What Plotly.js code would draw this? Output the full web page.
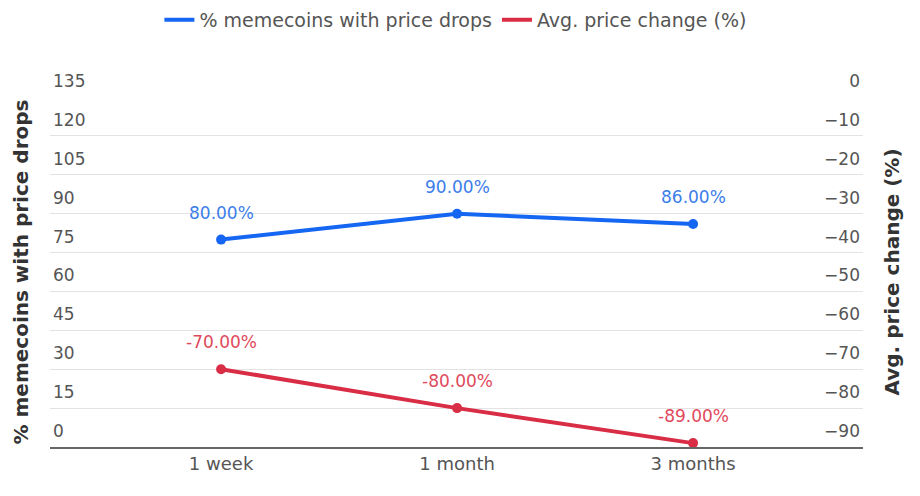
<!DOCTYPE html>
<html>
<head>
<meta charset="utf-8">
<script src="https://cdn.plot.ly/plotly-3.0.1.min.js"></script>
<style>html,body{margin:0;padding:0;background:#fff;}#chart{width:920px;height:496px;}</style>
</head>
<body>
<div id="chart"></div>
<script>
const categories = ["1 week", "1 month", "3 months"];
const pctDrops = [80, 90, 86];
const avgChange = [-70, -80, -89];
const leftTicks = [0, 15, 30, 45, 60, 75, 90, 105, 120, 135];
const rightTicks = [-90, -80, -70, -60, -50, -40, -30, -20, -10, 0];
const seriesNames = ["% memecoins with price drops", "Avg. price change (%)"];

const BLUE = "#1566f2";
const RED = "#d92d46";
const FONT = "DejaVu Sans, sans-serif";

const traces = [
  {
    x: categories, y: pctDrops, type: "scatter", mode: "lines+markers",
    name: seriesNames[0], yaxis: "y", showlegend: false,
    line: {color: BLUE, width: 4}, marker: {color: BLUE, size: 10},
    hoverinfo: "skip"
  },
  {
    x: categories, y: avgChange, type: "scatter", mode: "lines+markers",
    name: seriesNames[1], yaxis: "y2", showlegend: false,
    line: {color: RED, width: 4}, marker: {color: RED, size: 10},
    hoverinfo: "skip"
  },
  {x: [null], y: [null], type: "scatter", mode: "lines", name: seriesNames[0],
    line: {color: BLUE, width: 4}, hoverinfo: "skip"},
  {x: [null], y: [null], type: "scatter", mode: "lines", name: seriesNames[1], yaxis: "y2",
    line: {color: RED, width: 4}, hoverinfo: "skip"}
];

const annotations = [];
categories.forEach((c, i) => {
  annotations.push({x: c, y: pctDrops[i], xref: "x", yref: "y", text: pctDrops[i].toFixed(2) + "%",
    showarrow: false, yshift: 27, font: {family: FONT, size: 17, color: "#3c7ee9"}});
  annotations.push({x: c, y: avgChange[i], xref: "x", yref: "y2", text: avgChange[i].toFixed(2) + "%",
    showarrow: false, yshift: 27, font: {family: FONT, size: 17, color: "#df4a5c"}});
});

const tickFont = {family: FONT, size: 17, color: "#555"};

const layout = {
  width: 920, height: 496,
  margin: {l: 50, r: 57, t: 97, b: 49},
  paper_bgcolor: "#fff", plot_bgcolor: "#fff",
  font: {family: FONT, size: 17, color: "#555"},
  showlegend: true,
  legend: {orientation: "h", x: 0.495, xref: "container", xanchor: "center",
    y: 0.96, yref: "container", yanchor: "middle",
    font: {family: FONT, size: 19, color: "#555"}, itemwidth: 30},
  xaxis: {
    type: "category", range: [-0.725, 2.72], showgrid: false, zeroline: false,
    showline: true, linecolor: "#666", linewidth: 1.5, ticks: "",
    tickfont: {family: FONT, size: 18, color: "#555"}, fixedrange: true
  },
  yaxis: {
    range: [0, 135], tickvals: leftTicks, ticktext: leftTicks.map(String),
    ticklabelposition: "inside top", ticklabeloverflow: "allow", ticklabelshift: -4,
    showgrid: true, gridcolor: "#e3e3e3", gridwidth: 1,
    zeroline: false, showline: false, ticks: "",
    tickfont: tickFont,
    title: {text: "<b>% memecoins with price drops</b>", standoff: 19, font: {family: FONT, size: 20, color: "#333"}},
    automargin: false, fixedrange: true
  },
  yaxis2: {
    range: [-90, 0], tickvals: rightTicks, overlaying: "y", side: "right",
    ticklabelposition: "inside top", ticklabeloverflow: "allow", ticklabelshift: -4,
    showgrid: false, zeroline: false, showline: false, ticks: "",
    tickfont: tickFont,
    title: {text: "<b>Avg. price change (%)</b>", standoff: 25, font: {family: FONT, size: 20, color: "#333"}},
    automargin: false, fixedrange: true
  },
  annotations: annotations
};

Plotly.newPlot("chart", traces, layout, {displayModeBar: false, staticPlot: true});
</script>
</body>
</html>
